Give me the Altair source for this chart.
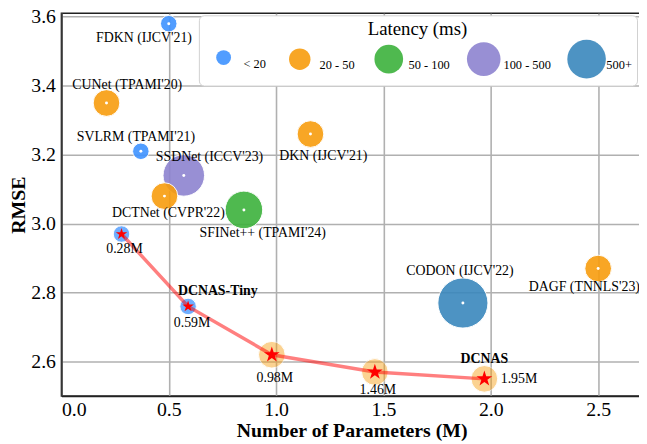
import altair as alt
import pandas as pd

# ---------------- data ----------------
methods = ["FDKN (IJCV'21)", "CUNet (TPAMI'20)", "SVLRM (TPAMI'21)", "SSDNet (ICCV'23)",
           "DCTNet (CVPR'22)", "SFINet++ (TPAMI'24)", "DKN (IJCV'21)", "CODON (IJCV'22)",
           "DAGF (TNNLS'23)"]
method_params = [0.50, 0.21, 0.37, 0.57, 0.48, 0.85, 1.16, 1.87, 2.50]
method_rmse = [3.58, 3.35, 3.21, 3.14, 3.08, 3.04, 3.26, 2.77, 2.87]
method_latency = ["< 20", "20 - 50", "< 20", "100 - 500", "20 - 50", "50 - 100",
                  "20 - 50", "500+", "20 - 50"]

ours_params = [0.28, 0.59, 0.98, 1.46, 1.97]
ours_rmse = [2.97, 2.76, 2.62, 2.57, 2.55]
ours_latency = ["< 20", "< 20", "20 - 50", "20 - 50", "20 - 50"]
ours_size_labels = ["0.28M", "0.59M", "0.98M", "1.46M", "1.95M"]
ours_names = ["", "DCNAS-Tiny", "", "", "DCNAS"]

latency_levels = ["< 20", "20 - 50", "50 - 100", "100 - 500", "500+"]

# ---------------- styles / layout ----------------
level_colors = ["#3f93ff", "#f89d0e", "#3db23d", "#8d83d0", "#3a88bd"]
level_sizes = [279, 729, 1444, 1764, 2570]
legend_sizes = [225, 471, 841, 1156, 1521]
FONT = "Liberation Serif"
STAR = ("M0,-1L0.2245,-0.309L0.9511,-0.309L0.3633,0.118L0.5878,0.809L0,0.382"
        "L-0.5878,0.809L-0.3633,0.118L-0.9511,-0.309L-0.2245,-0.309Z")

W, H = 587, 387
XDOM = [0, 2.704]
YDOM = [2.5, 3.61]
PXX = W / (XDOM[1] - XDOM[0])
PXY = H / (YDOM[1] - YDOM[0])

# label offsets in pixels (dx right, dy down) from the point
method_label_off = [(-25, 15), (21, -18), (-5, -14), (26, -19), (4, 17), (19, 23),
                    (13, 22), (-3, -32), (-14, 19)]
ours_size_off = [(3, 15), (4, 17), (3, 24), (3, 18), (35, 0)]
ours_name_off = [(0, 0), (30, -16), (0, 0), (0, 0), (0, -20)]

methods_df = pd.DataFrame({
    "name": methods, "params": method_params, "rmse": method_rmse,
    "latency": method_latency,
    "lx": [p + o[0] / PXX for p, o in zip(method_params, method_label_off)],
    "ly": [r - o[1] / PXY for r, o in zip(method_rmse, method_label_off)],
})
ours_df = pd.DataFrame({
    "params": ours_params, "rmse": ours_rmse, "latency": ours_latency,
    "sl": ours_size_labels, "name": ours_names,
    "sx": [p + o[0] / PXX for p, o in zip(ours_params, ours_size_off)],
    "sy": [r - o[1] / PXY for r, o in zip(ours_rmse, ours_size_off)],
    "nx": [p + o[0] / PXX for p, o in zip(ours_params, ours_name_off)],
    "ny": [r - o[1] / PXY for r, o in zip(ours_rmse, ours_name_off)],
})
legend_df = pd.DataFrame({"latency": latency_levels})

xs = alt.Scale(domain=XDOM, nice=False, zero=False)
ys = alt.Scale(domain=YDOM, nice=False, zero=False)

x_axis = alt.Axis(values=[0, 0.5, 1.0, 1.5, 2.0, 2.5], format=".1f",
                  title="Number of Parameters (M)", ticks=False, labelPadding=4,
                  titlePadding=1)
y_axis = alt.Axis(values=[2.6, 2.8, 3.0, 3.2, 3.4, 3.6], format=".1f", title="RMSE",
                  ticks=False, labelPadding=6, titlePadding=2)

size_calc = "[" + ",".join(str(s) for s in level_sizes) + "][indexof([" + \
    ",".join("'" + l + "'" for l in latency_levels) + "], datum.latency)]"

legend = alt.Legend(
    title="Latency (ms)", orient="none", legendX=139, legendY=2,
    direction="horizontal", columns=5, symbolType="circle",
    titleFont=FONT, titleFontSize=19, titleFontWeight="normal", titleAnchor="middle",
    titlePadding=0, labelFont=FONT, labelFontSize=12.5, labelBaseline="top",
    labelOffset=0, columnPadding=14, padding=5, fillColor="white",
    strokeColor="#d0d0d0", cornerRadius=5, symbolStrokeColor="white",
    symbolStrokeWidth=1, symbolOpacity=0.9,
)

color_scale = alt.Scale(domain=latency_levels, range=level_colors)
color_enc = alt.Color("latency:N", scale=color_scale, legend=legend)
pix_size = alt.Size("sz:Q", scale=None, legend=None)

# legend-only layer (no marks drawn)
legend_layer = alt.Chart(legend_df).transform_filter("false").mark_circle(opacity=0.9).encode(
    color=color_enc,
    size=alt.Size("latency:N",
                  scale=alt.Scale(type="ordinal", domain=latency_levels, range=legend_sizes),
                  legend=legend),
)

base_m = alt.Chart(methods_df).transform_calculate(sz=size_calc)
base_o = alt.Chart(ours_df).transform_calculate(sz=size_calc)

m_circles = base_m.mark_circle(opacity=0.9, stroke="white", strokeWidth=1).encode(
    x=alt.X("params:Q", scale=xs, axis=x_axis),
    y=alt.Y("rmse:Q", scale=ys, axis=y_axis),
    color=color_enc, size=pix_size,
)
m_dots = base_m.mark_circle(color="white", opacity=1, size=9).encode(
    x="params:Q", y="rmse:Q")
m_labels = base_m.mark_text(font=FONT, fontSize=14, color="black", baseline="middle").encode(
    x="lx:Q", y="ly:Q", text="name:N")

o_circles = base_o.mark_circle(stroke="white", strokeWidth=1).encode(
    x="params:Q", y="rmse:Q", color=color_enc, size=pix_size,
    opacity=alt.condition("datum.latency == '< 20'", alt.value(0.75), alt.value(0.45)),
)
o_line = base_o.mark_line(color="red", opacity=0.5, strokeWidth=3.5).encode(
    x="params:Q", y="rmse:Q", order="params:Q")
o_stars = base_o.mark_point(shape=STAR, filled=True, color="red", opacity=1,
                            strokeWidth=0).encode(
    x="params:Q", y="rmse:Q",
    size=alt.condition("datum.latency == '< 20'", alt.value(150), alt.value(280)),
)
o_size_labels = base_o.mark_text(font=FONT, fontSize=14, color="black",
                                 baseline="middle").encode(
    x="sx:Q", y="sy:Q", text="sl:N")
o_names = base_o.transform_filter("datum.name != ''").mark_text(
    font=FONT, fontSize=14, fontWeight="bold", color="black", baseline="middle").encode(
    x="nx:Q", y="ny:Q", text="name:N")

chart = alt.layer(
    legend_layer, m_circles, m_dots, m_labels, o_circles, o_line, o_stars, o_size_labels,
    o_names
).properties(
    width=W, height=H, background="white",
    autosize=alt.AutoSizeParams(type="none"),
    padding={"left": 54, "top": 3, "right": -3, "bottom": 45},
).configure_view(
    stroke="#222", strokeWidth=1.5
).configure_axis(
    labelFont=FONT, titleFont=FONT, labelFontSize=20, titleFontSize=20,
    titleFontWeight="bold", labelColor="black", titleColor="black",
    domainColor="#222", domainWidth=1.5, gridColor="#b0b0b0", gridWidth=1.6,
)

chart.save("out.html", embed_options={"renderer": "svg", "actions": False})
